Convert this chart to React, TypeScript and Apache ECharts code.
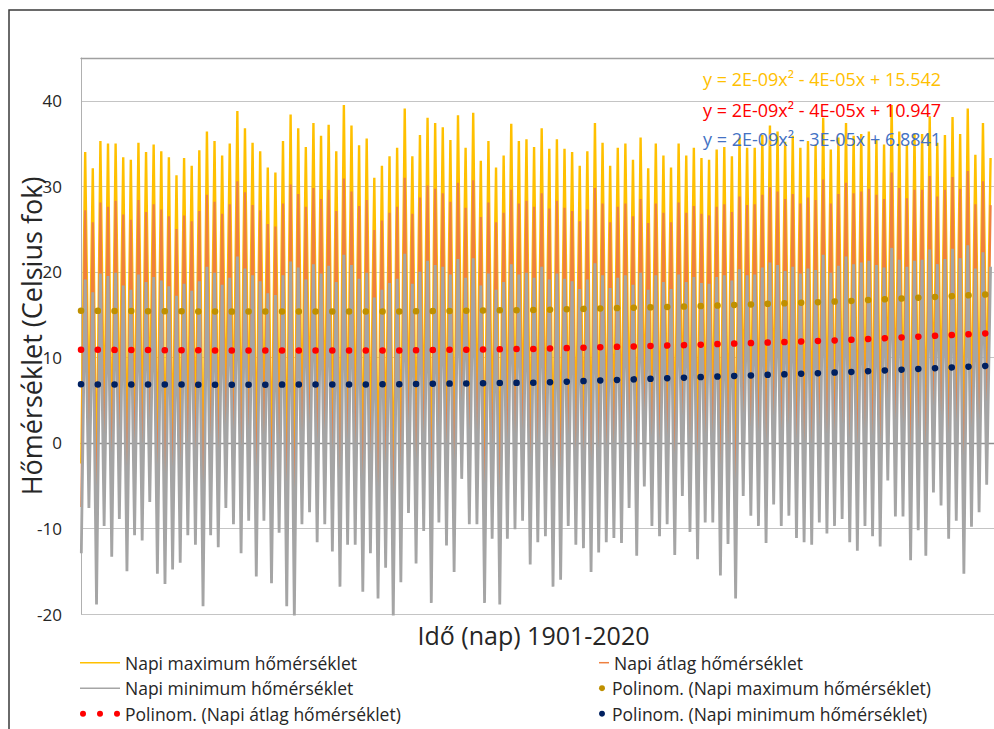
import React, { useEffect, useRef } from "react";
import * as echarts from "echarts";

// ---- Data ----
const YEARS: number[] = Array.from({ length: 120 }, (_, i) => 1901 + i);

// Summer peaks of daily maximum temperature, one per year
const MAX_PEAKS = [
  34.0, 32.1, 35.3, 35.0, 35.0, 33.4, 33.1, 35.1, 34.0, 34.9, 34.1, 33.4, 31.3, 33.3, 32.4, 34.2, 36.4, 35.3, 33.6, 35.0,
  38.8, 36.8, 35.1, 34.1, 32.2, 31.6, 35.3, 38.4, 36.8, 34.6, 37.4, 35.9, 37.2, 34.1, 39.5, 37.1, 34.8, 35.6, 31.0, 32.4,
  33.5, 34.5, 39.1, 33.5, 36.0, 38.0, 37.4, 36.9, 35.4, 38.3, 34.5, 38.6, 33.0, 35.3, 32.2, 33.6, 37.3, 35.3, 35.5, 34.6,
  36.8, 34.4, 35.5, 34.4, 34.0, 32.4, 34.1, 37.4, 35.1, 32.4, 34.5, 35.0, 33.1, 35.7, 32.1, 35.0, 33.6, 32.2, 35.0, 33.6,
  34.5, 33.3, 33.1, 34.3, 34.6, 33.5, 35.7, 34.5, 34.5, 36.0, 37.1, 36.4, 35.2, 35.9, 34.5, 35.3, 34.9, 38.0, 34.3, 35.7,
  37.4, 35.9, 36.1, 36.4, 35.5, 34.9, 39.5, 36.4, 34.9, 36.1, 36.1, 38.2, 35.1, 36.0, 38.1, 36.1, 39.1, 33.7, 37.4, 33.3,
];
// Winter lows of daily maximum temperature
const MAX_TROUGHS = [
  -2.4, 1.2, -7.3, 0.4, -2.8, 0.9, -3.6, -0.7, -1.2, 2.1, -4.0, -4.6, -3.1, -2.5, -0.3, -1.5, -6.8, -0.6, -1.9, 1.8,
  0.2, -2.1, 0.8, -3.9, 1.1, -4.3, -0.2, -6.2, -7.8, 0.3, 1.5, -1.0, 0.6, -1.8, -4.9, -1.3, -0.9, -5.4, -1.7, -5.9,
  -3.2, -8.6, -4.5, 0.9, -2.9, -0.4, -6.3, 0.5, -1.4, -3.6, 3.2, 0.1, 0.4, -6.0, -0.8, -6.5, -0.6, -0.1, 0.7, -2.7,
  -0.9, -0.3, -5.0, -4.1, 0.2, -1.2, -1.5, -3.3, -1.6, -0.7, -0.4, -0.9, 1.7, -2.2, 2.9, 0.5, -0.2, 0.8, -1.9, 2.4,
  0.3, -1.9, 0.9, 1.2, -3.4, -0.5, -5.2, 3.1, 1.6, 0.8, -0.4, 2.5, 1.0, 1.9, 0.1, -0.2, -0.6, 1.3, 0.4, 1.1,
  1.8, -0.1, -0.9, 1.4, 0.5, -0.3, 4.2, 2.0, 2.3, -1.5, 0.9, -1.2, 3.6, 2.8, 0.2, 1.7, -2.6, 1.5, 2.4, 4.0,
];
// Summer peaks of daily mean temperature
const AVG_PEAKS = [
  27.2, 25.8, 28.1, 27.6, 28.3, 26.7, 26.1, 28.4, 27.0, 27.9, 27.3, 26.5, 25.0, 26.6, 25.9, 27.1, 29.0, 28.2, 26.8, 27.9,
  30.6, 29.3, 27.8, 27.2, 25.6, 25.3, 28.0, 30.2, 29.1, 27.6, 29.8, 28.5, 29.6, 27.1, 30.9, 29.4, 27.7, 28.4, 24.9, 26.0,
  26.9, 27.6, 31.0, 26.8, 28.7, 30.1, 29.7, 29.2, 28.2, 30.4, 27.5, 30.7, 26.4, 28.1, 25.8, 26.9, 29.6, 28.0, 28.3, 27.6,
  29.2, 27.4, 28.3, 27.5, 27.1, 25.9, 27.3, 29.8, 28.0, 25.8, 27.6, 28.0, 26.5, 28.5, 25.7, 28.0, 26.9, 25.8, 28.1, 26.9,
  27.7, 26.8, 26.6, 27.6, 27.9, 27.0, 28.8, 27.8, 27.9, 29.0, 29.9, 29.4, 28.5, 29.1, 28.0, 28.7, 28.4, 30.8, 28.0, 29.1,
  30.4, 29.2, 29.4, 29.7, 29.0, 28.5, 31.6, 29.8, 28.6, 29.6, 29.6, 31.2, 28.8, 29.6, 31.1, 29.7, 31.8, 27.9, 30.6, 27.8,
];
// Winter lows of daily mean temperature
const AVG_TROUGHS = [
  -7.5, -3.8, -12.6, -5.2, -8.1, -4.6, -9.3, -6.0, -6.7, -3.1, -9.8, -10.4, -9.0, -8.2, -5.9, -6.8, -12.9, -6.1, -7.3, -3.5,
  -5.0, -7.7, -4.8, -9.6, -4.4, -10.2, -5.7, -12.5, -13.8, -5.1, -3.9, -6.6, -4.9, -7.4, -10.7, -6.9, -6.5, -11.2, -7.6, -11.9,
  -8.8, -14.2, -10.1, -4.3, -8.5, -5.6, -12.4, -4.9, -6.8, -9.2, -1.6, -5.3, -5.0, -12.1, -6.3, -12.7, -6.0, -5.4, -4.7, -8.6,
  -6.2, -5.8, -10.9, -10.0, -5.1, -6.7, -7.0, -9.1, -7.2, -6.4, -5.9, -6.3, -3.6, -7.9, -2.2, -5.0, -5.8, -4.7, -7.5, -2.9,
  -5.1, -7.8, -4.6, -4.2, -9.4, -6.3, -11.6, -2.5, -3.9, -4.8, -6.1, -3.0, -4.5, -3.7, -5.6, -5.9, -6.4, -4.1, -5.2, -4.4,
  -3.8, -5.9, -6.8, -4.3, -5.3, -6.2, -0.9, -3.6, -3.4, -7.5, -4.7, -7.1, -1.8, -2.6, -5.5, -3.9, -8.8, -4.2, -3.1, -1.0,
];
// Summer peaks of daily minimum temperature
const MIN_PEAKS = [
  19.1, 17.6, 19.8, 19.5, 19.9, 18.4, 17.9, 19.7, 18.8, 19.4, 19.0, 18.3, 17.2, 18.6, 17.8, 18.9, 20.6, 19.9, 18.5, 19.3,
  21.8, 20.4, 19.6, 18.9, 17.5, 17.3, 19.6, 21.2, 20.5, 19.1, 20.9, 19.8, 20.7, 18.8, 22.0, 20.8, 19.2, 19.9, 17.0, 17.9,
  18.7, 19.2, 22.1, 18.6, 20.0, 21.3, 20.8, 20.6, 19.7, 21.5, 19.3, 21.6, 18.4, 19.8, 17.9, 18.8, 20.9, 19.7, 19.9, 19.3,
  20.6, 19.1, 19.8, 19.2, 18.9, 18.0, 19.1, 21.0, 19.6, 18.1, 19.3, 19.6, 18.5, 19.9, 17.9, 19.6, 18.8, 18.0, 19.7, 18.8,
  19.4, 18.7, 18.6, 19.4, 19.6, 19.0, 20.3, 19.6, 19.7, 20.5, 21.1, 20.8, 20.1, 20.6, 19.8, 20.4, 20.2, 22.0, 19.9, 20.7,
  21.8, 20.9, 21.1, 21.3, 20.8, 20.5, 22.8, 21.4, 20.6, 21.3, 21.4, 22.6, 20.9, 21.5, 22.7, 21.6, 23.1, 20.4, 22.3, 20.6,
];
// Winter lows of daily minimum temperature
const MIN_TROUGHS = [
  -12.9, -7.6, -18.9, -9.7, -13.3, -8.9, -15.0, -10.8, -11.4, -6.9, -15.3, -16.5, -14.8, -14.0, -10.8, -11.9, -19.1, -10.8, -12.2, -7.6,
  -9.5, -12.9, -9.1, -15.6, -9.1, -16.4, -10.5, -19.1, -20.5, -9.5, -8.1, -11.6, -9.5, -12.7, -16.8, -11.9, -11.9, -17.4, -12.9, -18.2,
  -14.6, -20.5, -16.3, -8.2, -14.1, -10.3, -18.7, -9.3, -12.0, -15.1, -4.2, -9.5, -9.5, -18.7, -11.2, -18.9, -11.2, -10.1, -9.1, -14.2,
  -11.6, -10.9, -16.8, -16.0, -9.7, -11.9, -12.3, -15.1, -12.8, -11.6, -11.1, -11.7, -7.6, -13.2, -5.1, -9.7, -10.9, -9.5, -13.1, -6.2,
  -10.4, -13.6, -9.3, -9.3, -15.5, -11.8, -18.2, -6.2, -8.5, -9.7, -11.7, -7.2, -9.7, -8.5, -11.1, -11.6, -11.9, -9.3, -10.6, -9.7,
  -8.9, -11.6, -12.6, -9.7, -10.9, -12.1, -4.4, -8.6, -8.6, -13.7, -10.2, -13.2, -5.8, -7.3, -11.2, -9.1, -15.3, -9.8, -8.1, -4.9,
];

// Polynomial trend lines (values read at knots)
const TREND_YEARS = [1901, 1921, 1941, 1961, 1981, 2001, 2019.9];
const TREND_MAX = [15.45, 15.35, 15.35, 15.55, 15.95, 16.55, 17.35];
const TREND_AVG = [10.9, 10.8, 10.8, 11.0, 11.45, 12.0, 12.8];
const TREND_MIN = [6.85, 6.8, 6.85, 7.05, 7.65, 8.25, 9.0];

const EQUATIONS = [
  "y = 2E-09x² - 4E-05x + 15.542",
  "y = 2E-09x² - 4E-05x + 10.947",
  "y = 2E-09x² - 3E-05x + 6.8841",
];

const Y_TICKS = { min: -20, max: 45, interval: 10 };

const NAMES = [
  "Napi maximum hőmérséklet",
  "Napi átlag hőmérséklet",
  "Napi minimum hőmérséklet",
  "Polinom. (Napi maximum hőmérséklet)",
  "Polinom. (Napi átlag hőmérséklet)",
  "Polinom. (Napi minimum hőmérséklet)",
];

const FONT = "'Open Sans', 'Noto Sans', sans-serif";

function zigzag(troughs: number[], peaks: number[]) {
  const out: number[][] = [];
  YEARS.forEach((y, i) => {
    out.push([y + 0.04, troughs[i]]);
    out.push([y + 0.55, peaks[i]]);
  });
  return out;
}

function trend(vals: number[]) {
  return TREND_YEARS.map((y, i) => [y, vals[i]]);
}

const DOTS3 =
  "path://M0 3A3 3 0 1 0 6 3A3 3 0 1 0 0 3ZM17 3A3 3 0 1 0 23 3A3 3 0 1 0 17 3ZM34 3A3 3 0 1 0 40 3A3 3 0 1 0 34 3Z";
const LINE40 = "path://M0 2.25H40V3.75H0Z";
const LINE10 = "path://M0 2.25H10V3.75H0Z";

const LEGEND_ROWS = [649.7, 675.2, 700.7];

export default function App() {
  const ref = useRef<HTMLDivElement>(null);
  useEffect(() => {
    const chart = echarts.init(ref.current!, null, { renderer: "svg" });
    const lineBase = {
      type: "line" as const,
      showSymbol: false,
      symbol: "none",
      silent: true,
    };
    const dotLine = (color: string) => ({
      ...lineBase,
      clip: false,
      color,
      itemStyle: { color },
      lineStyle: { color, width: 6.5, type: [0.1, 16.65], cap: "round" },
      z: 5,
    });
    const legendItem = (nameIdx: number, left: number, top: number, width: number, icon: string) => ({
      left,
      top,
      padding: 0,
      orient: "horizontal",
      itemWidth: width,
      itemHeight: 6,
      itemGap: 0,
      selectedMode: false,
      textStyle: { fontSize: 17.5, color: "#262626", fontFamily: FONT, lineHeight: 26 },
      itemStyle: { borderWidth: 0 },
      data: [{ name: NAMES[nameIdx], icon }],
    });
    chart.setOption({
      animation: false,
      backgroundColor: "#ffffff",
      textStyle: { fontFamily: FONT },
      grid: { left: 81, right: 0, top: 58, bottom: 115, containLabel: false },
      xAxis: [
        {
          type: "value",
          min: 1901,
          max: 2021,
          name: "Idő (nap) 1901-2020",
          nameLocation: "middle",
          nameGap: 8,
          nameMoveOverlap: false,
          nameTextStyle: {
            fontSize: 25,
            color: "#262626",
            fontFamily: FONT,
            verticalAlign: "top",
            padding: [0, 8, 0, 0],
          },
          axisLine: { show: true, lineStyle: { color: "#8C8C8C", width: 1.3 } },
          axisTick: { show: false },
          axisLabel: { show: false },
          splitLine: { show: false },
        },
        {
          type: "value",
          position: "top",
          min: 1901,
          max: 2021,
          axisLine: { show: true, onZero: false, lineStyle: { color: "#A0A0A0", width: 1.3 } },
          axisTick: { show: false },
          axisLabel: { show: false },
          splitLine: { show: false },
        },
      ],
      yAxis: {
        type: "value",
        min: Y_TICKS.min,
        max: Y_TICKS.max,
        interval: Y_TICKS.interval,
        name: "Hőmérséklet (Celsius fok)",
        nameLocation: "middle",
        nameGap: 36,
        nameMoveOverlap: false,
        nameTextStyle: { fontSize: 27, color: "#262626", fontFamily: FONT },
        axisLine: { show: true, lineStyle: { color: "#B0B0B0", width: 1 } },
        axisTick: { show: false },
        axisLabel: {
          fontSize: 17,
          color: "#262626",
          fontFamily: FONT,
          margin: 19,
          showMaxLabel: false,
        },
        splitLine: { show: true, lineStyle: { color: "#C4C4C4", width: 1 } },
      },
      legend: [
        legendItem(0, 80, LEGEND_ROWS[0], 40, LINE40),
        legendItem(2, 80, LEGEND_ROWS[1], 40, LINE40),
        legendItem(4, 80, LEGEND_ROWS[2], 40, DOTS3),
        legendItem(1, 599, LEGEND_ROWS[0], 10, LINE10),
        legendItem(3, 599, LEGEND_ROWS[1], 10, "circle"),
        legendItem(5, 599, LEGEND_ROWS[2], 10, "circle"),
      ],
      graphic: [
        {
          type: "rect",
          shape: { x: 9, y: 10, width: 2000, height: 2000 },
          style: { fill: "none", stroke: "#3A3A3A", lineWidth: 1.5 },
          silent: true,
          z: 100,
        },
        ...EQUATIONS.map((t, i) => ({
          type: "text",
          x: 703,
          y: [79, 110, 139][i],
          style: {
            text: t,
            fill: ["#FFC000", "#FF0000", "#4472C4"][i],
            fontSize: 18,
            fontFamily: FONT,
            verticalAlign: "middle",
            align: "left",
          },
          silent: true,
          z: 100,
        })),
      ],
      series: [
        {
          ...lineBase,
          name: NAMES[0],
          color: "#FFC000",
          lineStyle: { color: "#FFC000", width: 2.4 },
          data: zigzag(MAX_TROUGHS, MAX_PEAKS),
          z: 2,
        },
        {
          ...lineBase,
          name: NAMES[1],
          color: "#EE8040",
          lineStyle: { color: "#EE8040", width: 2.2 },
          data: zigzag(AVG_TROUGHS, AVG_PEAKS),
          z: 2,
        },
        {
          ...lineBase,
          name: NAMES[2],
          color: "#A5A5A5",
          lineStyle: { color: "#A5A5A5", width: 2.8 },
          data: zigzag(MIN_TROUGHS, MIN_PEAKS),
          z: 2,
        },
        { ...dotLine("#BF9000"), name: NAMES[3], data: trend(TREND_MAX) },
        { ...dotLine("#FF0000"), name: NAMES[4], data: trend(TREND_AVG) },
        { ...dotLine("#002060"), name: NAMES[5], data: trend(TREND_MIN) },
      ],
    });
    return () => chart.dispose();
  }, []);
  return (
    <div
      ref={ref}
      style={{ position: "fixed", left: 0, top: 0, width: 994, height: 729, background: "#ffffff" }}
    />
  );
}
